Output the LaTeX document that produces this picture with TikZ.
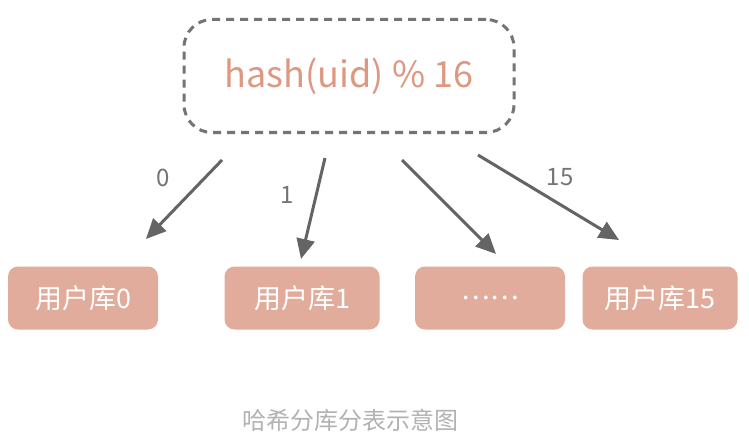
\documentclass[tikz,border=0pt]{standalone}
\usepackage{fontspec}
\setmainfont{Noto Sans CJK SC}
\usetikzlibrary{arrows.meta}
\definecolor{sal}{RGB}{222,152,130}
\definecolor{boxf}{RGB}{226,172,156}
\definecolor{arr}{RGB}{100,100,100}
\tikzset{
 ubox/.style={fill=boxf,rounded corners=10pt,minimum height=63pt,text=white,font=\fontsize{27}{30}\selectfont},
 arrw/.style={arr,line width=3pt,-{Triangle[length=20pt,width=18pt]}},
 lbl/.style={text=arr!90,font=\fontsize{24}{28}\selectfont}
}
\begin{document}
\begin{tikzpicture}[x=1pt,y=-1pt]
\useasboundingbox[fill=white] (0,0) rectangle (749,441);
\node[draw=arr!90,dash pattern=on 8pt off 6pt,line width=3pt,rounded corners=28pt,minimum width=330pt,minimum height=113pt,text=sal,font=\fontsize{36}{40}\selectfont] (top) at (349,76) {hash(uid) \% 16};
\node[ubox,minimum width=150pt] (b0) at (83,298) {用户库0};
\node[ubox,minimum width=155pt] (b1) at (302,298) {用户库1};
\node[ubox,minimum width=150pt] (b2) at (490,298) {……};
\node[ubox,minimum width=155pt] (b3) at (660,298) {用户库15};
\coordinate (s0) at (222,160); \coordinate (e0) at (146,239);
\coordinate (s1) at (325,158); \coordinate (e1) at (301,259);
\coordinate (s2) at (402,160); \coordinate (e2) at (496,254);
\coordinate (s3) at (478,155); \coordinate (e3) at (619,240);
\draw[arrw] (s0) -- (e0);
\draw[arrw] (s1) -- (e1);
\draw[arrw] (s2) -- (e2);
\draw[arrw] (s3) -- (e3);
\node[lbl] (l0) at (163,178) {0};
\node[lbl] (l1) at (287,195) {1};
\node[lbl] (l3) at (560,177) {15};
\node[text=black!30,font=\fontsize{24}{28}\selectfont] (cap) at (350,420) {哈希分库分表示意图};
\end{tikzpicture}
\end{document}
